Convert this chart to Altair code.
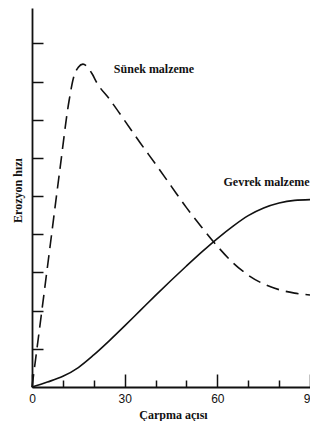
import altair as alt
import pandas as pd

# Sünek (ductile) material curve — dashed
ductile_angle = [0, 3, 6, 9, 12, 13.5, 15, 16.5, 18, 19.5, 21, 25, 30, 35, 40, 45, 50, 55, 60, 65, 70, 75, 80, 85, 90]
ductile_rate = [0, 1.88, 3.78, 5.68, 7.5, 8.12, 8.38, 8.46, 8.38, 8.2, 7.97, 7.55, 6.98, 6.40, 5.84, 5.27, 4.70, 4.18, 3.69, 3.26, 2.93, 2.70, 2.55, 2.46, 2.41]

# Gevrek (brittle) material curve — solid
brittle_angle = [0, 5, 10, 15, 20, 25, 30, 35, 40, 45, 50, 55, 60, 65, 70, 75, 80, 85, 90]
brittle_rate = [0, 0.13, 0.28, 0.51, 0.84, 1.21, 1.60, 2.00, 2.40, 2.79, 3.17, 3.54, 3.89, 4.21, 4.49, 4.69, 4.82, 4.89, 4.91]

label_text = ["Sünek malzeme", "Gevrek malzeme"]
label_angle = [26.5, 62.0]
label_rate = [8.24, 5.26]

x_ticks_major = [0, 30, 60, 90]
x_ticks_minor = [10, 20, 40, 50, 70, 80]
y_ticks = [1, 2, 3, 4, 5, 6, 7, 8, 9]

W, H = 278, 379
INK = "#111111"
SERIF = "'Liberation Serif', 'Times New Roman', 'DejaVu Serif', serif"
SANS = "'Liberation Sans', Arial, sans-serif"

df_d = pd.DataFrame({"angle": ductile_angle, "rate": ductile_rate})
df_b = pd.DataFrame({"angle": brittle_angle, "rate": brittle_rate})
df_t = pd.DataFrame({"angle": label_angle, "rate": label_rate, "text": label_text})

xs = alt.Scale(domain=[0, 90], nice=False, zero=False)
ys = alt.Scale(domain=[0, 9.93], nice=False, zero=False)

dashed = alt.Chart(df_d).mark_line(
    interpolate="monotone", strokeDash=[13, 7], strokeWidth=1.6, color=INK
).encode(
    x=alt.X("angle:Q", scale=xs, axis=alt.Axis(
        orient="bottom", values=x_ticks_major, ticks=False, tickSize=0, domain=False, grid=False,
        labelFont=SANS, labelFontSize=12, labelColor=INK, labelPadding=15,
        labelBaseline="alphabetic", labelFlush=False,
        title="Çarpma açısı", titleFont=SERIF, titleFontSize=12, titleFontWeight="bold",
        titleColor=INK, titleX=141, titleY=31, titleBaseline="alphabetic", titleAlign="center")),
    y=alt.Y("rate:Q", scale=ys, axis=alt.Axis(
        orient="left", ticks=False, labels=False, domain=False, grid=False,
        title="Erozyon hızı", titleFont=SERIF, titleFontSize=12, titleFontWeight="bold",
        titleColor=INK, titleAngle=270, titleX=-11, titleY=182,
        titleBaseline="alphabetic", titleAlign="center")),
)

solid = alt.Chart(df_b).mark_line(
    interpolate="monotone", strokeWidth=1.6, color=INK
).encode(
    x=alt.X("angle:Q", scale=xs, title=None, axis=alt.Axis(
        orient="top", offset=-H, values=x_ticks_major, tickSize=13, tickWidth=1.5, tickColor=INK,
        labels=False, domain=True, domainColor=INK, domainWidth=1.8, grid=False)),
    y=alt.Y("rate:Q", scale=ys, title=None, axis=alt.Axis(
        orient="right", offset=-W, values=y_ticks, tickSize=11, tickWidth=1.5, tickColor=INK,
        labels=False, domain=True, domainColor=INK, domainWidth=1.8, grid=False)),
)

labels = alt.Chart(df_t).mark_text(
    align="left", baseline="alphabetic", font=SERIF, fontWeight="bold", fontSize=12, color=INK
).encode(
    x=alt.X("angle:Q", scale=xs, title=None, axis=alt.Axis(
        orient="top", offset=-H, values=x_ticks_minor, tickSize=7, tickWidth=1.5, tickColor=INK,
        labels=False, domain=False, grid=False)),
    y=alt.Y("rate:Q", scale=ys, axis=None),
    text="text:N",
)

chart = alt.layer(dashed, solid, labels).resolve_axis(
    x="independent", y="independent"
).properties(
    width=W, height=H,
    autosize=alt.AutoSizeParams(type="none"),
    padding={"left": 24, "top": 0, "right": 0, "bottom": 34},
    background="white",
).configure_view(strokeWidth=0)

chart.save("out.html", embed_options={"renderer": "svg", "actions": False})
